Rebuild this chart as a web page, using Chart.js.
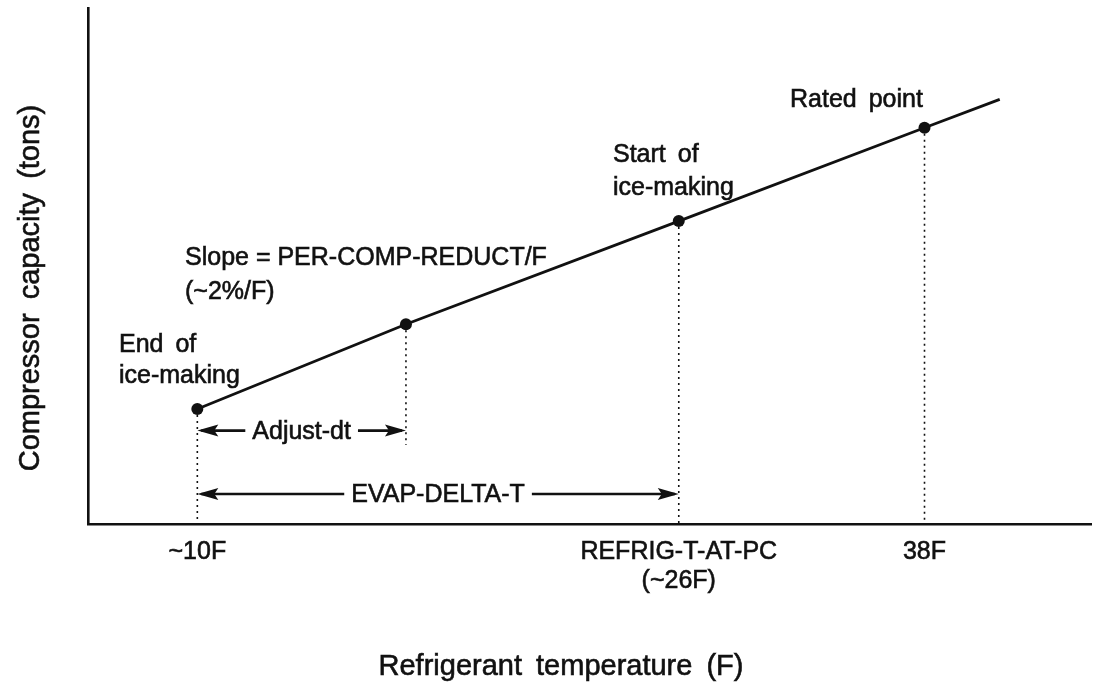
<!DOCTYPE html>
<html>
<head>
<meta charset="utf-8">
<title>Compressor capacity vs refrigerant temperature</title>
<script src="https://cdn.jsdelivr.net/npm/chart.js@4.4.0/dist/chart.umd.min.js"></script>
<style>
    body { margin: 0; background: #fff; }
    canvas { display: block; }
</style>
</head>
<body>
<canvas id="myChart" width="1097" height="683"></canvas>
<script>
// data //
// x = schematic position along the temperature axis (diagram is not to scale), y = capacity, arbitrary units
const pointNames = ['End of ice-making', 'Adjust-dt', 'Start of ice-making', 'Rated point', 'beyond rated'];
const tempPos = [10.9, 31.7, 58.9, 83.4, 90.9];
const capacity = [22.3, 38.7, 58.7, 76.8, 82.3];
const hasMarker = [true, true, true, true, false];

const tickPos = [10.9, 58.9, 83.4];
const tickLabels = [['~10F'], ['REFRIG-T-AT-PC', '(~26F)'], ['38F']];

// where the short drop line stops and where the two span arrows sit (capacity units)
const adjustDropEnd = 15.3;
const adjustArrowLevel = 18.1;
const evapArrowLevel = 5.8;

const FONT = "'Liberation Sans', Arial, Helvetica, sans-serif";
const INK = '#111';

// drop lines from each marked point down to the axis
function dropLine(i, bottom) {
    return {
        data: [{ x: tempPos[i], y: capacity[i] }, { x: tempPos[i], y: bottom }],
        showLine: true,
        borderColor: INK,
        borderWidth: 1.6,
        borderDash: [2, 4],
        pointRadius: 0
    };
}

function arrowHead(ctx, tipX, y, dir) {
    // dir -1 = pointing left, 1 = pointing right
    ctx.beginPath();
    ctx.moveTo(tipX, y);
    ctx.lineTo(tipX - dir * 21, y - 6);
    ctx.lineTo(tipX - dir * 17, y);
    ctx.lineTo(tipX - dir * 21, y + 6);
    ctx.closePath();
    ctx.fill();
}

// scanned lettering is a little heavier than plain Liberation Sans
function text(ctx, str, x, y, size, align, spacing) {
    ctx.font = size + 'px ' + FONT;
    ctx.wordSpacing = spacing || '0px';
    ctx.textAlign = align || 'left';
    ctx.textBaseline = 'alphabetic';
    ctx.lineWidth = 0.6;
    ctx.fillText(str, x, y);
    ctx.strokeText(str, x, y);
}

function spanArrow(ctx, x1, x2, y, label) {
    ctx.font = '25px ' + FONT;
    ctx.wordSpacing = '0px';
    const w = ctx.measureText(label).width;
    const mid = (x1 + x2) / 2;
    ctx.lineWidth = 2.6;
    ctx.beginPath();
    ctx.moveTo(x1 + 4, y);
    ctx.lineTo(mid - w / 2 - 7, y);
    ctx.moveTo(mid + w / 2 + 7, y);
    ctx.lineTo(x2 - 4, y);
    ctx.stroke();
    arrowHead(ctx, x1, y, -1);
    arrowHead(ctx, x2, y, 1);
    text(ctx, label, mid, y + 8, 25, 'center');
}

const diagramPlugin = {
    id: 'diagram',
    afterDatasetsDraw(chart) {
        const ctx = chart.ctx;
        const xs = chart.scales.x;
        const ys = chart.scales.y;
        ctx.save();
        ctx.fillStyle = INK;
        ctx.strokeStyle = INK;

        spanArrow(ctx, xs.getPixelForValue(tempPos[0]), xs.getPixelForValue(tempPos[1]),
            ys.getPixelForValue(adjustArrowLevel), 'Adjust-dt');
        spanArrow(ctx, xs.getPixelForValue(tempPos[0]), xs.getPixelForValue(tempPos[2]),
            ys.getPixelForValue(evapArrowLevel), 'EVAP-DELTA-T');

        // point notes
        text(ctx, 'Rated point', 790, 107, 25, 'left', '5px');
        text(ctx, 'Start of', 613, 162, 25, 'left', '5px');
        text(ctx, 'ice-making', 613, 195, 25);
        text(ctx, 'Slope = PER-COMP-REDUCT/F', 185, 265, 25);
        text(ctx, '(~2%/F)', 185, 299, 25);
        text(ctx, 'End of', 119, 352, 25, 'left', '5px');
        text(ctx, 'ice-making', 119, 383, 25);

        // axis titles
        text(ctx, 'Refrigerant temperature (F)', 561, 675, 29, 'center', '6px');
        ctx.translate(39, 288);
        ctx.rotate(-Math.PI / 2);
        text(ctx, 'Compressor capacity (tons)', 0, 0, 29, 'center', '6px');
        ctx.restore();
    }
};

document.addEventListener('DOMContentLoaded', function() {
    let ctx = document.getElementById('myChart').getContext('2d');
    let myChart = new Chart(ctx, {
        type: 'scatter',
        data: {
            datasets: [
                {
                    label: 'Compressor capacity',
                    data: tempPos.map((x, i) => ({ x: x, y: capacity[i] })),
                    showLine: true,
                    borderColor: INK,
                    borderWidth: 2.8,
                    tension: 0,
                    pointRadius: hasMarker.map(m => m ? 6 : 0),
                    pointBackgroundColor: INK,
                    pointBorderColor: INK,
                    pointBorderWidth: 0
                },
                dropLine(0, 0),
                dropLine(1, adjustDropEnd),
                dropLine(2, 0),
                dropLine(3, 0)
            ]
        },
        options: {
            responsive: false,
            animation: false,
            layout: { padding: { left: 88, top: 8, right: 0, bottom: 73 } },
            plugins: {
                legend: { display: false },
                tooltip: { enabled: false }
            },
            scales: {
                x: {
                    type: 'linear',
                    min: 0,
                    max: 100,
                    border: { display: true, color: INK, width: 2.6 },
                    grid: { display: false, drawTicks: false },
                    afterBuildTicks: (axis) => { axis.ticks = tickPos.map(v => ({ value: v })); },
                    ticks: {
                        autoSkip: false,
                        maxRotation: 0,
                        padding: 14,
                        color: INK,
                        textStrokeColor: INK,
                        textStrokeWidth: 0.6,
                        font: { family: FONT, size: 25, lineHeight: 1.16 },
                        callback: (value, index) => tickLabels[index]
                    }
                },
                y: {
                    min: 0,
                    max: 100,
                    border: { display: true, color: INK, width: 2.6 },
                    grid: { display: false, drawTicks: false },
                    ticks: { display: false }
                }
            }
        },
        plugins: [diagramPlugin]
    });
});
</script>
</body>
</html>
